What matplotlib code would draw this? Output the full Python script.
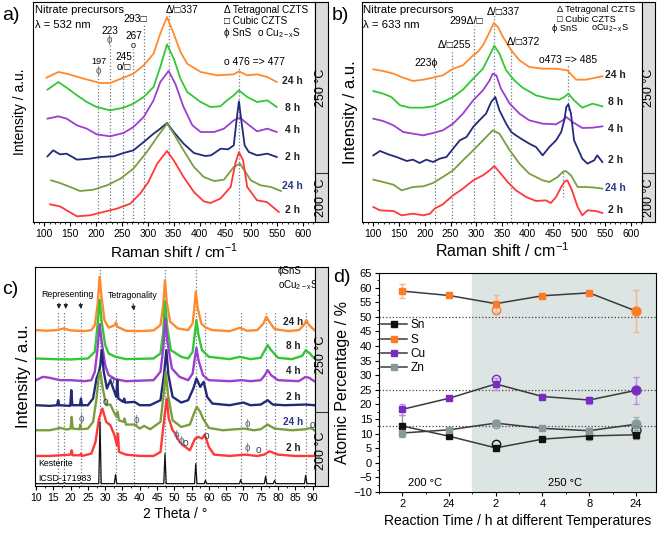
import matplotlib
matplotlib.use('Agg')
import matplotlib.pyplot as plt
from matplotlib.ticker import MultipleLocator

plt.rcParams['font.family'] = ['Liberation Sans', 'DejaVu Sans']
plt.rcParams['mathtext.fontset'] = 'custom'
plt.rcParams['mathtext.rm'] = 'Liberation Sans'

W, H = 661, 534

# ---------------- colours of the series ----------------
c_orange = '#ff8a2e'
c_green = '#33c733'
c_purple = '#9b3fd0'
c_navy = '#232a78'
c_olive = '#7a9e3e'
c_red = '#ff3838'

# ---------------- panel a: Raman 532 nm ----------------
a_labels = ['24 h', '8 h', '4 h', '2 h', '24 h', '2 h']
a_offsets = [415, 330, 255, 180, 85, 15]
a_x_24h_250 = [104, 127, 143, 176, 208, 227, 253, 272, 292, 311, 324, 337, 350, 363, 376, 402, 434, 466, 476, 492, 511, 531, 549]
a_y_24h_250 = [18, 35, 30, 15, 2, 2, 18, 30, 55, 90, 150, 200, 150, 95, 60, 35, 25, 28, 37, 25, 28, 20, 5]
a_x_8h_250 = [106, 127, 143, 163, 182, 201, 227, 253, 272, 292, 311, 324, 337, 350, 363, 376, 402, 421, 440, 453, 466, 476, 492, 511, 531, 549]
a_y_8h_250 = [67, 90, 73, 50, 30, 15, 5, 13, 25, 45, 75, 135, 203, 160, 100, 60, 30, 15, 17, 35, 50, 65, 45, 30, 35, 15]
a_x_4h_250 = [106, 127, 143, 163, 182, 201, 227, 253, 272, 292, 311, 324, 340, 353, 369, 386, 402, 428, 447, 466, 478, 492, 511, 531, 549]
a_y_4h_250 = [55, 62, 55, 35, 25, 8, 2, 12, 30, 60, 110, 165, 198, 160, 90, 35, 15, 15, 25, 50, 58, 40, 17, 25, 15]
a_x_2h_250 = [106, 117, 130, 143, 163, 188, 208, 234, 253, 272, 292, 311, 324, 337, 350, 369, 389, 411, 422, 441, 455, 466, 471, 476, 481, 487, 495, 511, 531, 549]
a_y_2h_250 = [17, 35, 23, 25, 7, 10, 15, 17, 27, 35, 60, 85, 100, 117, 90, 55, 27, 18, 20, 40, 38, 50, 120, 182, 120, 50, 30, 20, 25, 15]
a_x_24h_200 = [113, 130, 150, 169, 195, 221, 247, 272, 298, 318, 337, 350, 369, 389, 408, 428, 447, 466, 478, 499, 518, 538, 557]
a_y_24h_200 = [40, 32, 20, 8, 12, 25, 45, 75, 125, 170, 210, 180, 130, 80, 50, 38, 42, 80, 90, 40, 25, 20, 8]
a_x_2h_200 = [111, 130, 143, 163, 188, 214, 240, 266, 285, 301, 318, 337, 350, 369, 389, 408, 421, 440, 460, 469, 476, 484, 492, 511, 530, 553]
a_y_2h_200 = [38, 32, 20, 2, 5, 15, 25, 40, 70, 105, 160, 198, 170, 120, 75, 47, 42, 55, 90, 160, 195, 170, 90, 50, 45, 15]
a_peaks = [204, 226, 252, 271, 293, 340, 477]
a_peak_tops = [445, 535, 450, 520, 590, 635, 465]

# ---------------- panel b: Raman 633 nm ----------------
b_labels = ['24 h', '8 h', '4 h', '2 h', '24 h', '2 h']
b_x_24h_250 = [100, 119, 139, 158, 177, 197, 216, 235, 255, 274, 294, 303, 313, 326, 334, 342, 352, 368, 384, 403, 429, 455, 477, 494, 513, 532, 545]
b_y_24h_250 = [38, 33, 25, 13, 3, 7, 13, 20, 40, 50, 80, 90, 110, 150, 177, 165, 135, 95, 65, 45, 40, 40, 35, 7, 7, 13, 17]
b_x_8h_250 = [100, 119, 135, 152, 171, 197, 216, 235, 255, 274, 294, 313, 326, 335, 345, 358, 374, 390, 416, 442, 461, 471, 479, 490, 506, 526, 545]
b_y_8h_250 = [53, 45, 35, 10, 3, 3, 7, 20, 35, 57, 90, 120, 160, 189, 165, 115, 85, 63, 40, 30, 27, 35, 45, 25, 3, 15, 7]
b_x_4h_250 = [100, 119, 139, 158, 177, 197, 216, 235, 255, 274, 294, 313, 326, 332, 339, 348, 365, 384, 403, 429, 455, 468, 475, 487, 506, 526, 545]
b_y_4h_250 = [50, 43, 30, 10, 5, 0, 7, 15, 35, 65, 105, 135, 165, 185, 180, 140, 95, 65, 45, 35, 33, 45, 55, 40, 22, 23, 27]
b_x_2h_250 = [100, 113, 129, 145, 165, 177, 190, 203, 216, 229, 242, 255, 268, 281, 294, 306, 319, 329, 337, 345, 358, 368, 377, 387, 403, 416, 429, 442, 455, 465, 471, 475, 479, 484, 490, 506, 516, 529, 535, 545]
b_y_2h_250 = [25, 38, 28, 20, 8, 12, 2, 12, 5, 15, 20, 45, 70, 80, 110, 130, 150, 185, 200, 160, 120, 95, 85, 75, 60, 50, 25, 50, 70, 95, 130, 170, 178, 150, 70, 15, 0, 10, 25, 5]
b_x_24h_200 = [100, 119, 139, 155, 177, 197, 216, 235, 255, 274, 294, 313, 332, 345, 365, 384, 403, 429, 442, 458, 468, 474, 484, 497, 513, 532, 545]
b_y_24h_200 = [37, 30, 22, 5, 15, 17, 27, 45, 65, 95, 125, 155, 185, 175, 125, 85, 55, 35, 30, 45, 60, 63, 50, 15, 15, 13, 10]
b_x_2h_200 = [100, 113, 139, 155, 177, 197, 210, 219, 235, 255, 274, 294, 313, 326, 335, 345, 361, 377, 397, 416, 435, 445, 455, 465, 471, 477, 486, 497, 506, 516, 532, 545]
b_y_2h_200 = [30, 20, 18, 5, 10, 5, 10, 25, 38, 65, 85, 110, 125, 140, 153, 135, 105, 80, 60, 48, 50, 42, 60, 90, 105, 110, 80, 30, 5, 20, 18, 12]
b_offsets = [420, 340, 260, 175, 90, 15]
b_peaks = [219, 253, 295, 334, 368]
b_peak_tops = [465, 515, 587, 620, 525]

# ---------------- panel c: XRD ----------------
c_labels = ['24 h', '8 h', '4 h', '2 h', '24 h', '2 h']
c_offsets = [462, 377, 312, 237, 162, 87]
c_x_24h_250 = [10, 13, 16, 18, 20, 24, 26, 27, 27.8, 28.4, 29, 29.8, 31, 32.8, 33.1, 33.5, 36, 40, 44, 46, 46.8, 47.3, 47.8, 48.8, 51, 54, 55.3, 55.8, 56.2, 56.8, 57.8, 59, 61, 66, 69, 71, 74, 75.8, 76.6, 77.5, 79, 83, 86, 87.5, 88.2, 89, 90.5]
c_y_24h_250 = [5, 3, 5, 10, 4, 2, 5, 20, 80, 165, 100, 35, 12, 20, 28, 15, 3, 2, 4, 20, 80, 155, 90, 30, 10, 5, 25, 70, 120, 70, 25, 13, 5, 2, 12, 3, 5, 25, 45, 30, 8, 2, 5, 20, 35, 20, 5]
c_x_8h_250 = [10, 15, 20, 25, 27, 27.8, 28.4, 29, 30, 31, 33, 36, 44, 46, 46.8, 47.3, 48, 49, 52, 54, 55.3, 56, 56.4, 57, 58, 60, 66, 69, 72, 75, 76.2, 77, 78, 80, 84, 87, 88, 89.2, 90.5]
c_y_8h_250 = [5, 3, 2, 5, 25, 105, 180, 115, 45, 20, 10, 3, 5, 20, 85, 175, 95, 30, 10, 5, 25, 85, 120, 75, 30, 10, 3, 10, 3, 7, 30, 45, 30, 7, 3, 13, 30, 20, 5]
c_x_4h_250 = [10, 12, 14, 17, 20, 24, 26, 27, 27.8, 28.4, 29, 30, 31, 33, 36, 44, 46, 46.8, 47.4, 48, 49.3, 50, 51.5, 54, 55.3, 56, 56.4, 57, 58.3, 60, 66, 69.5, 72, 75, 76.2, 77, 78, 80, 86, 88, 89, 90.5]
c_y_4h_250 = [5, 15, 12, 5, 5, 2, 5, 30, 100, 172, 120, 50, 20, 8, 2, 5, 30, 100, 190, 120, 40, 32, 15, 5, 25, 75, 102, 65, 20, 5, 2, 5, 2, 5, 20, 35, 20, 5, 2, 15, 12, 2]
c_x_2h_250 = [10, 14, 16.1, 16.4, 16.7, 19.9, 20.2, 20.5, 22.7, 23, 23.3, 25, 26.5, 27.5, 28.2, 28.6, 29, 29.6, 30.5, 31.5, 32.5, 33.2, 33.5, 33.8, 35.2, 35.5, 35.8, 38.5, 40, 43, 46, 47, 47.7, 48.3, 49.5, 52, 54, 55.5, 56.4, 57.5, 58.5, 59.5, 61, 66, 70, 72, 75, 77, 78.5, 82, 88, 90.5]
c_y_2h_250 = [5, 3, 5, 20, 5, 3, 50, 5, 5, 25, 5, 5, 25, 85, 105, 125, 170, 105, 55, 80, 50, 30, 80, 25, 15, 25, 13, 15, 5, 5, 20, 95, 170, 95, 30, 13, 20, 55, 85, 60, 75, 30, 10, 5, 13, 5, 7, 20, 7, 5, 7, 5]
c_x_24h_200 = [10, 14, 17, 19, 20, 20.3, 20.6, 22.5, 22.8, 23.1, 25, 26.5, 27.5, 28.2, 28.6, 29.3, 30.3, 31.5, 32.5, 33.3, 33.6, 34, 35.3, 35.6, 36, 38.5, 40, 41.3, 43, 46, 47, 47.5, 48.2, 49.5, 52, 54.5, 55.5, 56.5, 57.5, 58.3, 60, 64, 70.3, 73, 75, 77, 79, 84, 88, 89.5, 90.5]
c_y_24h_200 = [5, 5, 12, 7, 10, 45, 10, 8, 22, 8, 10, 30, 100, 170, 180, 130, 80, 82, 60, 45, 60, 35, 30, 40, 22, 22, 10, 18, 8, 30, 120, 180, 110, 35, 15, 22, 50, 75, 60, 40, 12, 5, 10, 5, 8, 22, 10, 5, 8, 12, 5]
c_x_2h_200 = [10, 14, 17, 20, 20.3, 20.6, 22.8, 23, 23.3, 26, 27.2, 28.2, 29.2, 30.3, 31.5, 32.7, 33.4, 33.7, 34, 36, 40, 44, 46, 47.2, 47.8, 48.4, 49.5, 50.3, 51.5, 52.5, 54.5, 56, 57, 58, 58.8, 60, 61.5, 66, 70.5, 74, 76, 77.5, 80, 85, 90.5]
c_y_2h_200 = [3, 3, 5, 7, 20, 5, 5, 10, 3, 10, 45, 115, 145, 105, 95, 65, 35, 70, 15, 7, 3, 3, 15, 125, 175, 115, 80, 70, 45, 35, 20, 55, 60, 55, 67, 30, 7, 3, 7, 3, 7, 17, 7, 3, 3]
c_ref_peaks = [16.3, 18.2, 23.0, 28.5, 33.0, 47.3, 56.2, 59.0, 69.2, 76.4, 79.0, 88.0]
c_ref_heights = [2, 3, 2, 185, 27, 90, 60, 10, 12, 22, 10, 25]
c_lines = [16.3, 18.2, 23.0, 28.5, 33.0, 38.3, 47.3, 56.2, 59.0, 69.2, 76.4, 79.0, 88.0]

# ---------------- panel d: composition ----------------
d_ticklabels = ['2', '24', '2', '4', '8', '24']
d_pos = [0, 1, 2, 3, 4, 5]
sn = [12.6, 9.1, 5.1, 8.1, 9.2, 9.6]
sn_err = [3.7, 0, 0, 0, 1.5, 1.5]
s_val = [58.8, 57.3, 54.5, 57.2, 58.2, 52.0]
s_err = [2.5, 0, 3.0, 0, 0, 7.3]
cu = [18.3, 22.1, 27.0, 22.7, 21.5, 24.8]
cu_err = [2.0, 0, 2.0, 0, 1.2, 4.7]
zn = [10.2, 11.3, 13.6, 11.8, 11.0, 13.2]
zn_err = [0, 0, 1.0, 0, 0.8, 2.5]
circ_pos = [2, 5]
sn_circ = [6.5, 11.2]
s_circ = [52.3, 52.0]
cu_circ = [28.8, 24.8]
zn_circ = [13.3, 13.3]
ideal = [50, 25, 12.5]


def px_axes(fig, l, t, r, b):
    return fig.add_axes([l / W, 1 - b / H, (r - l) / W, (b - t) / H])


def strip(fig, l, t, r, b, split, lab_hi, lab_lo):
    s = px_axes(fig, l, t, r, b)
    s.set_facecolor('#dcdcdc')
    s.set_xlim(0, 1)
    s.set_ylim(0, 1)
    s.set_xticks([])
    s.set_yticks([])
    s.axhline(split, color='#333333', lw=0.8)
    s.text(0.5, lab_hi, '250 °C', rotation=90, ha='center', va='center', fontsize=9)
    s.text(0.5, lab_lo, '200 °C', rotation=90, ha='center', va='center', fontsize=9)
    return s


def xaxis_style(axx, major, minor):
    axx.set_yticks([])
    axx.xaxis.set_major_locator(MultipleLocator(major))
    axx.xaxis.set_minor_locator(MultipleLocator(minor))
    axx.tick_params(axis='x', direction='out', length=3, labelsize=7.5, pad=2)
    axx.tick_params(axis='x', which='minor', length=1.5)


fig = plt.figure(figsize=(W / 100, H / 100), dpi=100)
cols = [c_orange, c_green, c_purple, c_navy, c_olive, c_red]
lab_cols = ['#222222'] * 4 + ['#2a3585', '#222222']
vline = dict(color='#6a7a8a', ls=':', lw=0.9)
fs = 7.5

# ----- a -----
ax = px_axes(fig, 33, 2, 315, 222)
a_xs = [a_x_24h_250, a_x_8h_250, a_x_4h_250, a_x_2h_250, a_x_24h_200, a_x_2h_200]
a_ys = [a_y_24h_250, a_y_8h_250, a_y_4h_250, a_y_2h_250, a_y_24h_200, a_y_2h_200]
for p, top in zip(a_peaks, a_peak_tops):
    ax.plot([p, p], [0, top], **vline)
for xs, ys, off, col in zip(a_xs, a_ys, a_offsets, cols):
    ax.plot(xs, [v + off for v in ys], color=col, lw=1.3)
lab_h = [422, 342, 275, 195, 108, 35]
for lab, hh, lc in zip(a_labels, lab_h, lab_cols):
    ax.text(579, hh, lab, ha='center', va='center', fontsize=fs, color=lc, fontweight='bold')
ax.text(82, 635, 'Nitrate precursors', fontsize=8, va='center')
ax.text(82, 590, 'λ = 532 nm', fontsize=8, va='center')
ax.text(335, 637, 'Δ/□337', fontsize=7.3, va='center')
ax.text(447, 635, 'Δ Tetragonal CZTS', fontsize=7.2, va='center')
ax.text(447, 603, '□ Cubic CZTS', fontsize=7.2, va='center')
ax.text(447, 568, 'ϕ SnS', fontsize=7.2, va='center')
ax.text(511, 568, r'o Cu$_{\mathregular{2-x}}$S', fontsize=7.2, va='center')
ax.text(276, 609, '293□', fontsize=fs, ha='center', va='center')
ax.text(226, 573, '223', fontsize=7.2, ha='center', va='center')
ax.text(226, 545, 'ϕ', fontsize=7, ha='center', va='center', color='#555555')
ax.text(272, 558, '267', fontsize=7.2, ha='center', va='center')
ax.text(272, 530, 'o', fontsize=6.5, ha='center', va='center')
ax.text(205, 482, '197', fontsize=6.6, ha='center', va='center')
ax.text(205, 452, 'ϕ', fontsize=7, ha='center', va='center', color='#555555')
ax.text(253, 495, '245', fontsize=7.2, ha='center', va='center')
ax.text(253, 465, 'o/□', fontsize=7.2, ha='center', va='center')
ax.text(505, 480, 'o 476 => 477', fontsize=fs, ha='center', va='center')
ax.set_xlim(78, 623)
ax.set_ylim(0, 660)
xaxis_style(ax, 50, 10)
ax.set_xlabel(r'Raman shift / cm$^{\mathregular{-1}}$', fontsize=11, labelpad=2)
ax.set_ylabel('Intensity / a.u.', fontsize=10, labelpad=4)
strip(fig, 315, 2, 328, 222, 0.223, 0.61, 0.11)
fig.text(2 / W, 1 - 16 / H, 'a)', fontsize=14, va='center')

# ----- b -----
bx = px_axes(fig, 362, 2, 642, 222)
b_xs = [b_x_24h_250, b_x_8h_250, b_x_4h_250, b_x_2h_250, b_x_24h_200, b_x_2h_200]
b_ys = [b_y_24h_250, b_y_8h_250, b_y_4h_250, b_y_2h_250, b_y_24h_200, b_y_2h_200]
for p, top in zip(b_peaks, b_peak_tops):
    bx.plot([p, p], [0, top], **vline)
bx.plot([479, 479], [335, 470], **vline)
bx.plot([468, 468], [75, 155], **vline)
for xs, ys, off, col in zip(b_xs, b_ys, b_offsets, cols):
    bx.plot(xs, [v + off for v in ys], color=col, lw=1.3)
lab_hb = [440, 360, 280, 185, 103, 35]
for lab, hh, lc in zip(b_labels, lab_hb, lab_cols):
    bx.text(571, hh, lab, ha='center', va='center', fontsize=fs, color=lc, fontweight='bold')
bx.text(79, 637, 'Nitrate precursors', fontsize=8.2, va='center')
bx.text(79, 590, 'λ = 633 nm', fontsize=8.2, va='center')
bx.text(353, 630, 'Δ/□337', fontsize=fs, ha='center', va='center')
bx.text(457, 637, 'Δ Tetragonal CZTS', fontsize=6.7, va='center')
bx.text(457, 609, '□ Cubic CZTS', fontsize=6.7, va='center')
bx.text(447, 580, 'ϕ SnS', fontsize=6.7, va='center')
bx.text(522, 580, r'oCu$_{\mathregular{2-x}}$S', fontsize=6.7, va='center')
bx.text(281, 603, '299Δ/□', fontsize=fs, ha='center', va='center')
bx.text(258, 530, 'Δ/□255', fontsize=fs, ha='center', va='center')
bx.text(203, 477, '223ϕ', fontsize=fs, ha='center', va='center')
bx.text(391, 540, 'Δ/□372', fontsize=fs, ha='center', va='center')
bx.text(478, 487, 'o473 => 485', fontsize=fs, ha='center', va='center')
bx.set_xlim(78, 622)
bx.set_ylim(0, 660)
xaxis_style(bx, 50, 10)
bx.set_xlabel(r'Raman shift / cm$^{\mathregular{-1}}$', fontsize=11.5, labelpad=2)
bx.set_ylabel('Intensity / a.u.', fontsize=12, labelpad=3)
strip(fig, 642, 2, 655, 222, 0.223, 0.61, 0.11)
fig.text(332 / W, 1 - 16 / H, 'b)', fontsize=14, va='center')

# ----- c -----
cx = px_axes(fig, 35, 267, 315, 486)
c_xs = [c_x_24h_250, c_x_8h_250, c_x_4h_250, c_x_2h_250, c_x_24h_200, c_x_2h_200]
c_ys = [c_y_24h_250, c_y_8h_250, c_y_4h_250, c_y_2h_250, c_y_24h_200, c_y_2h_200]
for ln in c_lines:
    top = 656 if ln in (28.5, 47.3, 56.2) else 520
    cx.plot([ln, ln], [0, top], zorder=1, **vline)
for xs, ys, off, col in zip(c_xs, c_ys, c_offsets, cols):
    cx.plot(xs, [v + off for v in ys], color=col, lw=1.7, zorder=2)
ref_x = [9.7]
ref_y = [7]
for p, hgt in zip(c_ref_peaks, c_ref_heights):
    ref_x += [p - 0.35, p, p + 0.35]
    ref_y += [7, 7 + hgt, 7]
ref_x.append(90.7)
ref_y.append(7)
cx.plot(ref_x, ref_y, color='#111111', lw=0.9, zorder=3)
lab_hc = [490, 419, 344, 267, 192, 114]
for lab, hh, lc in zip(c_labels, lab_hc, lab_cols):
    cx.text(84.4, hh, lab, ha='center', va='center', fontsize=7.2, color=lc, fontweight='bold')
cx.text(10.6, 67, 'Kesterite', fontsize=6.3, va='center')
cx.text(10.6, 22, 'ICSD-171983', fontsize=6.3, va='center')
cx.text(80.0, 645, 'ϕSnS', fontsize=7, va='center')
cx.text(80.0, 603, r'oCu$_{\mathregular{2-x}}$S', fontsize=7, va='center')
cx.text(19.0, 574, 'Representing', fontsize=6.3, ha='center', va='center')
cx.text(38, 570, 'Tetragonality', fontsize=6.3, ha='center', va='center')
for x0, x1 in [(16.7, 16.5), (18.7, 18.5), (22.7, 23.2)]:
    cx.annotate('', xy=(x1, 522), xytext=(x0, 556),
                arrowprops=dict(arrowstyle='-|>', color='#222222', lw=0.7, mutation_scale=6))
cx.annotate('', xy=(38.4, 517), xytext=(38.0, 554),
            arrowprops=dict(arrowstyle='-|>', color='#222222', lw=0.7, mutation_scale=6))
sym_x = [23.0, 39.1, 71.1, 50.7, 51.9, 71.1]
sym_h = [200, 197, 187, 154, 134, 114]
for sx, sh in zip(sym_x, sym_h):
    cx.text(sx, sh, 'ϕ', fontsize=7, ha='center', va='center', color='#556677')
o_x = [31.9, 30.0, 53.3, 59.3, 74.3, 90.0]
o_h = [314, 252, 129, 149, 107, 184]
for sx, sh in zip(o_x, o_h):
    cx.text(sx, sh, 'o', fontsize=7.5, ha='center', va='center', color='#334455')
cx.set_xlim(9.7, 90.7)
cx.set_ylim(0, 656)
xaxis_style(cx, 5, 2.5)
cx.set_xlabel('2 Theta / °', fontsize=10, labelpad=3)
cx.set_ylabel('Intensity / a.u.', fontsize=12, labelpad=3)
strip(fig, 315, 267, 328, 486, 0.338, 0.6, 0.16)
fig.text(2 / W, 1 - 290 / H, 'c)', fontsize=14, va='center')

# ----- d -----
dx = px_axes(fig, 379, 273, 656, 492)
dx.axvspan(1.5, 5.45, color='#dde4e4', zorder=0)
for yv in ideal:
    dx.axhline(yv, color='#444444', ls=':', lw=0.9, zorder=1)
series = [(sn, sn_err, sn_circ, 'Sn', '#111111', '#999999', False),
          (s_val, s_err, s_circ, 'S', '#ff7a22', '#f6b58c', True),
          (cu, cu_err, cu_circ, 'Cu', '#7a2bc0', '#b98ee0', True),
          (zn, zn_err, zn_circ, 'Zn', '#889999', '#a8b4b4', True)]
for vals, errs, circ, name, col, ecol, fill_last in series:
    ex = [p for p, e in zip(d_pos, errs) if e > 0]
    ey = [v for v, e in zip(vals, errs) if e > 0]
    ee = [e for e in errs if e > 0]
    dx.errorbar(ex, ey, yerr=ee, fmt='none', ecolor=ecol, elinewidth=1, capsize=2.5, zorder=2)
    dx.plot(d_pos, vals, color='#3a3a3a', lw=1.1, marker='s', ms=3.8,
            mfc=col, mec=col, label=name, zorder=3)
    dx.plot(circ_pos[:1], circ[:1], ls='none', marker='o', ms=6, mfc='none', mec=col, mew=1, zorder=4)
    dx.plot(circ_pos[1:], circ[1:], ls='none', marker='o', ms=6.5,
            mfc=col if fill_last else 'none', mec=col, mew=1, alpha=0.85, zorder=4)
dx.text(0.49, -7, '200 °C', ha='center', va='center', fontsize=8)
dx.text(3.48, -7, '250 °C', ha='center', va='center', fontsize=8)
dx.set_xlim(-0.5, 5.43)
dx.set_ylim(-10, 65)
dx.set_xticks(d_pos)
dx.set_xticklabels(d_ticklabels)
dx.xaxis.set_minor_locator(MultipleLocator(0.5))
dx.yaxis.set_major_locator(MultipleLocator(5))
dx.yaxis.set_minor_locator(MultipleLocator(2.5))
dx.tick_params(direction='out', length=3, labelsize=8, pad=2)
dx.tick_params(which='minor', length=1.5)
dx.set_ylabel('Atomic Percentage / %', fontsize=11.5, labelpad=2)
dx.set_xlabel('Reaction Time / h at different Temperatures', fontsize=10, labelpad=4)
dx.legend(loc='upper left', bbox_to_anchor=(-0.01, 0.81), frameon=False, fontsize=8.5,
          handlelength=2.2, labelspacing=0.2, handletextpad=0.3, borderaxespad=0)
fig.text(333 / W, 1 - 278 / H, 'd)', fontsize=14, va='center')

fig.savefig('out.png', dpi=100)
